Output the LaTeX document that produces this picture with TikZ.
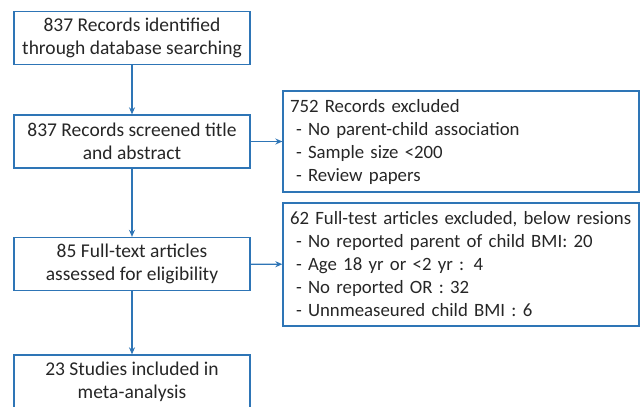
\documentclass[tikz,border=0pt]{standalone}
\usepackage{fontspec}
\setmainfont{Carlito}
\usetikzlibrary{arrows.meta}
\definecolor{bl}{HTML}{2E75B6}
\definecolor{tx}{HTML}{262626}
\begin{document}
\begin{tikzpicture}[x=1pt,y=-1pt,
 box/.style={draw=bl, line width=1.3pt, text=tx, inner sep=0pt},
 lbox/.style={box, font=\fontsize{19.5}{23}\selectfont, minimum width=236pt, minimum height=53pt, align=center},
 rbox/.style={box, font=\fontsize{18.8}{23}\selectfont, text width=342pt, inner xsep=7pt, align=left},
 arr/.style={draw=bl, line width=1.3pt, -{Stealth[length=7pt,width=6pt]}}]
\useasboundingbox (0,0) rectangle (640,407);
\clip (0,0) rectangle (640,407);
\node[lbox] (b1) at (132,38) {837 Records identified\\through database searching};
\node[lbox] (b2) at (132,141.5) {837 Records screened title\\and abstract};
\node[lbox] (b3) at (132,264) {85 Full-text articles\\assessed for eligibility};
\node[lbox] (b4) at (132,381.5) {23 Studies included in\\meta-analysis};
\node[rbox, minimum height=101pt] (r1) at (461,141.5) {\mbox{752 Records excluded}\\
\mbox{\hspace*{6pt}- No parent-child association}\\
\mbox{\hspace*{6pt}- Sample size <200}\\
\mbox{\hspace*{6pt}- Review papers}};
\node[rbox, minimum height=123pt] (r2) at (461,264.5) {\mbox{62 Full-test articles excluded, below resions}\\
\mbox{\hspace*{6pt}- No reported parent of child BMI: 20}\\
\mbox{\hspace*{6pt}- Age 18 yr or <2 yr : 4}\\
\mbox{\hspace*{6pt}- No reported OR : 32}\\
\mbox{\hspace*{6pt}- Unnmeaseured child BMI : 6}};
\draw[arr] (b1) -- (b2);
\draw[arr] (b2) -- (b3);
\draw[arr] (b3) -- (b4);
\draw[arr] (b2) -- (r1);
\draw[arr] (b3) -- (r2);
\end{tikzpicture}
\end{document}
